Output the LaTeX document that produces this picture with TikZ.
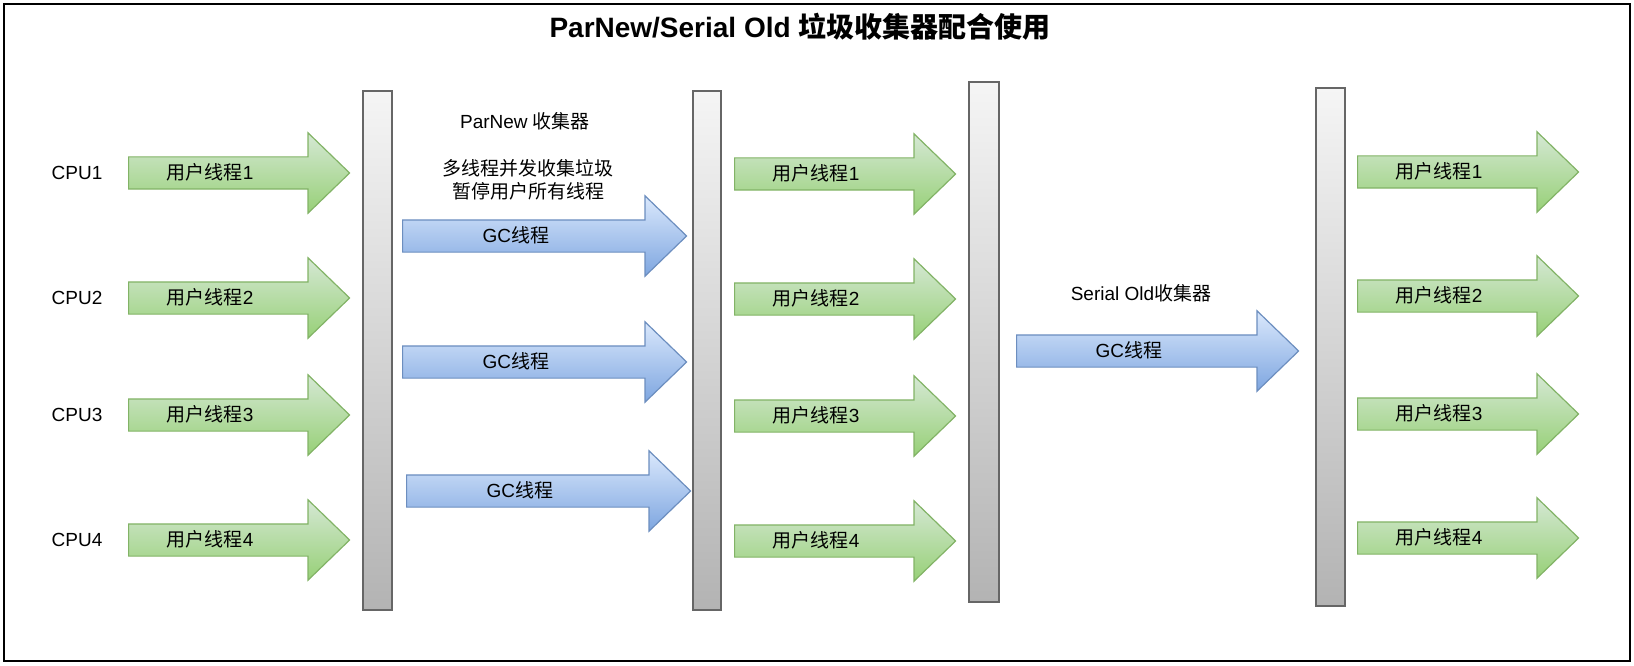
\documentclass[tikz,border=0pt]{standalone}
\usepackage{fontspec}
\usepackage{tikz}
\usetikzlibrary{shapes.arrows}
\setmainfont{Liberation Sans}
\newfontfamily\cjk{Noto Sans CJK SC}
\newcommand{\hanzi}[1]{{\cjk #1}}
\definecolor{acikYesil}{HTML}{D5E8D4}
\definecolor{koyuYesil}{HTML}{97D077}
\definecolor{kenarYesil}{HTML}{82B366}
\definecolor{acikMavi}{HTML}{DAE8FC}
\definecolor{koyuMavi}{HTML}{7EA6E0}
\definecolor{kenarMavi}{HTML}{6C8EBF}
\definecolor{acikGri}{HTML}{F5F5F5}
\definecolor{koyuGri}{HTML}{B3B3B3}
\definecolor{kenarGri}{HTML}{666666}

\begin{document}
\begin{tikzpicture}[x=1pt,y=-1pt,font=\fontsize{19}{23}\selectfont,
  kalinOk/.style={single arrow,single arrow head extend=24pt,single arrow tip angle=88,
    inner xsep=4pt,inner ysep=0pt,text height=22pt,text depth=9pt,line width=1.2pt,anchor=tail,
    execute at end node={\hspace*{41pt}}},
  kullaniciOk/.style={kalinOk,draw=kenarYesil,top color=acikYesil,bottom color=koyuYesil,minimum height=221pt},
  gcOk/.style={kalinOk,draw=kenarMavi,top color=acikMavi,bottom color=koyuMavi,minimum height=284pt},
  cubuk/.style={draw=kenarGri,line width=1.2pt,top color=acikGri,bottom color=koyuGri}]
\useasboundingbox (0,0) rectangle (1634,666);
\draw[line width=2.5pt] (4,4) rectangle (1630,661);
\node[font=\fontsize{28}{33}\selectfont\bfseries] (baslik) at (800,27) {ParNew/Serial Old \hanzi{垃圾收集器配合使用}};
% cubuklar
\draw[cubuk] (363,91) rectangle (392,610);
\draw[cubuk] (693,91) rectangle (721,610);
\draw[cubuk] (969,82) rectangle (999,602);
\draw[cubuk] (1316,88) rectangle (1345,606);
% cpu
\node (cpu1) at (77,173) {CPU1};
\node (cpu2) at (77,298) {CPU2};
\node (cpu3) at (77,415) {CPU3};
\node (cpu4) at (77,540) {CPU4};
\node[kullaniciOk] (u11) at (128,173) {\hanzi{用户线程}1};
\node[kullaniciOk] (u12) at (128,298) {\hanzi{用户线程}2};
\node[kullaniciOk] (u13) at (128,415) {\hanzi{用户线程}3};
\node[kullaniciOk] (u14) at (128,540) {\hanzi{用户线程}4};
% ParNew
\node (parnew) at (525,121) {ParNew \hanzi{收集器}};
\node[align=center] (parnewNot) at (528,180) {\hanzi{多线程并发收集垃圾}\\\hanzi{暂停用户所有线程}};
\node[gcOk] (gc1) at (402,236) {GC\hanzi{线程}};
\node[gcOk] (gc2) at (402,362) {GC\hanzi{线程}};
\node[gcOk] (gc3) at (406,491) {GC\hanzi{线程}};
\node[kullaniciOk] (u21) at (734,174) {\hanzi{用户线程}1};
\node[kullaniciOk] (u22) at (734,299) {\hanzi{用户线程}2};
\node[kullaniciOk] (u23) at (734,416) {\hanzi{用户线程}3};
\node[kullaniciOk] (u24) at (734,541) {\hanzi{用户线程}4};
% Serial Old
\node (serialOld) at (1141,293) {Serial Old\hanzi{收集器}};
\node[gcOk,minimum height=282pt] (gc4) at (1016,351) {GC\hanzi{线程}};
\node[kullaniciOk] (u41) at (1357,172) {\hanzi{用户线程}1};
\node[kullaniciOk] (u42) at (1357,296) {\hanzi{用户线程}2};
\node[kullaniciOk] (u43) at (1357,414) {\hanzi{用户线程}3};
\node[kullaniciOk] (u44) at (1357,538) {\hanzi{用户线程}4};
\end{tikzpicture}
\end{document}
